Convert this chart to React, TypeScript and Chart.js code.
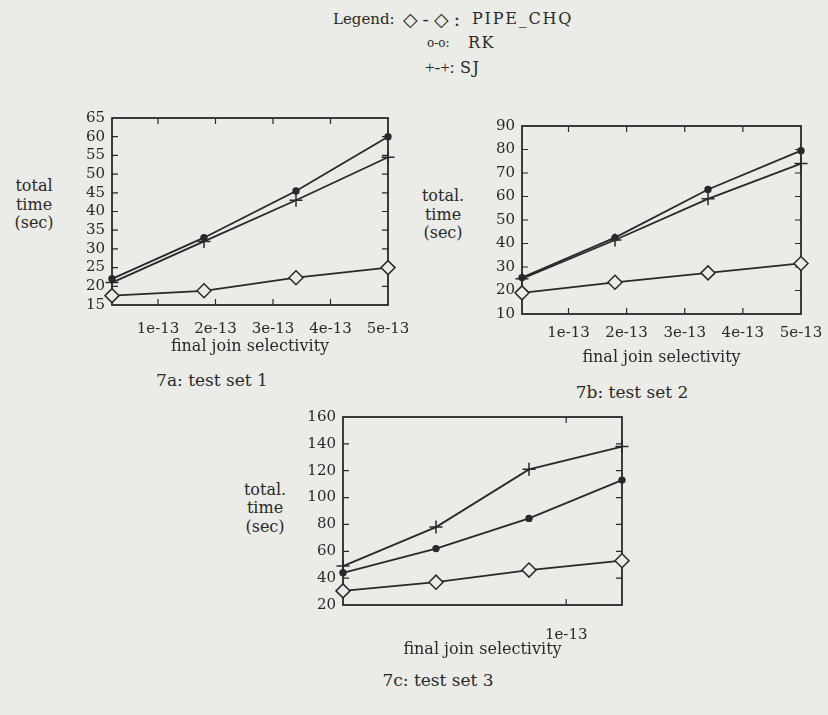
import React, { useEffect, useRef } from "react";
import { Chart, registerables } from "chart.js";

Chart.register(...registerables);

const INK = "#292929";
const PAPER = "#ebebe7";
const FONT = "'DejaVu Serif', serif";

// ---- 7a: test set 1 ----
const xA = [2e-14, 1.8e-13, 3.4e-13, 5e-13];
const pipeA = [17.5, 18.8, 22.3, 25];
const rkA = [22, 33, 45.5, 60];
const sjA = [21, 32, 43, 54.5];
const xTicksA = [1e-13, 2e-13, 3e-13, 4e-13, 5e-13];
const xTickLabelsA = ["1e-13", "2e-13", "3e-13", "4e-13", "5e-13"];
const yTicksA = [15, 20, 25, 30, 35, 40, 45, 50, 55, 60, 65];

// ---- 7b: test set 2 ----
const xB = [2e-14, 1.8e-13, 3.4e-13, 5e-13];
const pipeB = [19, 23.5, 27.5, 31.5];
const rkB = [25.5, 42.5, 63, 79.5];
const sjB = [25, 41.5, 59, 74];
const xTicksB = [1e-13, 2e-13, 3e-13, 4e-13, 5e-13];
const xTickLabelsB = ["1e-13", "2e-13", "3e-13", "4e-13", "5e-13"];
const yTicksB = [10, 20, 30, 40, 50, 60, 70, 80, 90];

// ---- 7c: test set 3 ----
const xC = [2.8e-14, 5.8e-14, 8.8e-14, 1.18e-13];
const pipeC = [30.5, 37, 46, 53];
const rkC = [44, 62, 84.5, 113];
const sjC = [49, 78, 121, 138];
const xTicksC = [1e-13];
const xTickLabelsC = ["1e-13"];
const yTicksC = [20, 40, 60, 80, 100, 120, 140, 160];

const seriesNames = ["PIPE_CHQ", "RK", "SJ"];
const xTitle = "final join selectivity";

type Panel = {
  left: number; top: number; width: number; height: number;
  padTop: number; padRight: number; yWidth: number; xHeight: number;
  tickPad: number; titlePadBottom: number;
  x: number[]; pipe: number[]; rk: number[]; sj: number[];
  xTicks: number[]; xLabels: string[]; yTicks: number[];
};

const panels: Panel[] = [
  {
    left: 72, top: 108, width: 341, height: 252, padTop: 10, padRight: 25, yWidth: 40, xHeight: 55,
    tickPad: 15, titlePadBottom: 4,
    x: xA, pipe: pipeA, rk: rkA, sj: sjA, xTicks: xTicksA, xLabels: xTickLabelsA, yTicks: yTicksA,
  },
  {
    left: 482, top: 116, width: 346, height: 253, padTop: 10, padRight: 27, yWidth: 40, xHeight: 55,
    tickPad: 10, titlePadBottom: 2,
    x: xB, pipe: pipeB, rk: rkB, sj: sjB, xTicks: xTicksB, xLabels: xTickLabelsB, yTicks: yTicksB,
  },
  {
    left: 303, top: 407, width: 339, height: 253, padTop: 10, padRight: 20, yWidth: 40, xHeight: 55,
    tickPad: 21, titlePadBottom: 1,
    x: xC, pipe: pipeC, rk: rkC, sj: sjC, xTicks: xTicksC, xLabels: xTickLabelsC, yTicks: yTicksC,
  },
];

const framePlugin = {
  id: "frameTicks",
  beforeDatasetsDraw(chart: any) {
    const { ctx, chartArea: a, scales } = chart;
    ctx.save();
    ctx.strokeStyle = INK;
    ctx.lineWidth = 1.8;
    ctx.strokeRect(a.left, a.top, a.right - a.left, a.bottom - a.top);
    ctx.lineWidth = 1.2;
    const t = 6;
    ctx.beginPath();
    scales.y.ticks.forEach((tk: any) => {
      const py = scales.y.getPixelForValue(tk.value);
      if (py <= a.top + 1 || py >= a.bottom - 1) return;
      ctx.moveTo(a.left, py);
      ctx.lineTo(a.left + t, py);
      ctx.moveTo(a.right, py);
      ctx.lineTo(a.right - t, py);
    });
    scales.x.ticks.forEach((tk: any) => {
      const px = scales.x.getPixelForValue(tk.value);
      if (px <= a.left + 1 || px >= a.right - 1) return;
      ctx.moveTo(px, a.top);
      ctx.lineTo(px, a.top + t);
      ctx.moveTo(px, a.bottom);
      ctx.lineTo(px, a.bottom - t);
    });
    ctx.stroke();
    ctx.restore();
  },
};

function PanelChart({ p }: { p: Panel }) {
  const ref = useRef<HTMLCanvasElement | null>(null);
  useEffect(() => {
    if (!ref.current) return;
    const pts = (ys: number[]) => p.x.map((x, i) => ({ x, y: ys[i] }));
    const font = { family: FONT, size: 15 };
    const chart = new Chart(ref.current, {
      type: "line",
      data: {
        datasets: [
          {
            label: seriesNames[0],
            data: pts(p.pipe),
            borderColor: INK,
            backgroundColor: PAPER,
            borderWidth: 1.8,
            pointStyle: "rectRot",
            pointRadius: 7,
            pointBorderWidth: 1.5,
            pointBackgroundColor: PAPER,
            pointBorderColor: INK,
            clip: false,
          },
          {
            label: seriesNames[1],
            data: pts(p.rk),
            borderColor: INK,
            backgroundColor: INK,
            borderWidth: 1.8,
            pointStyle: "circle",
            pointRadius: 2.8,
            pointBackgroundColor: INK,
            pointBorderColor: INK,
            clip: false,
          },
          {
            label: seriesNames[2],
            data: pts(p.sj),
            borderColor: INK,
            backgroundColor: INK,
            borderWidth: 1.8,
            pointStyle: "cross",
            pointRadius: 6.5,
            pointBorderWidth: 1.5,
            pointBorderColor: INK,
            clip: false,
          },
        ] as any,
      },
      options: {
        animation: false,
        responsive: false,
        devicePixelRatio: 1,
        layout: { padding: { top: p.padTop, right: p.padRight, left: 0, bottom: 0 } },
        plugins: { legend: { display: false }, tooltip: { enabled: false } },
        elements: { line: { tension: 0 } },
        scales: {
          x: {
            type: "linear",
            min: p.x[0],
            max: p.x[p.x.length - 1],
            grid: { display: false, drawTicks: false },
            border: { display: false },
            afterBuildTicks: (s: any) => { s.ticks = p.xTicks.map((v) => ({ value: v })); },
            afterFit: (s: any) => {
              s.height = p.xHeight;
              s.paddingLeft = 0;
              s.paddingRight = 0;
            },
            ticks: {
              autoSkip: false,
              maxRotation: 0,
              padding: p.tickPad,
              color: INK,
              font,
              callback: (_v: any, i: number) => p.xLabels[i],
            },
            title: {
              display: true,
              text: xTitle,
              color: INK,
              font: { family: FONT, size: 16 },
              padding: { top: 0, bottom: p.titlePadBottom },
            },
          },
          y: {
            type: "linear",
            min: p.yTicks[0],
            max: p.yTicks[p.yTicks.length - 1],
            grid: { display: false, drawTicks: false },
            border: { display: false },
            afterBuildTicks: (s: any) => { s.ticks = p.yTicks.map((v) => ({ value: v })); },
            afterFit: (s: any) => {
              s.width = p.yWidth;
              s.paddingTop = 0;
              s.paddingBottom = 0;
            },
            ticks: { padding: 7, color: INK, font, autoSkip: false },
          },
        },
      } as any,
      plugins: [framePlugin],
    });
    return () => chart.destroy();
  }, [p]);
  return (
    <canvas
      ref={ref}
      width={p.width}
      height={p.height}
      style={{ position: "absolute", left: p.left, top: p.top, width: p.width, height: p.height }}
    />
  );
}

function T({
  x, y, children, center, size, family, spacing,
}: {
  x: number; y: number; children: any; center?: boolean; size?: number; family?: string; spacing?: number;
}) {
  return (
    <div
      style={{
        position: "absolute",
        left: x,
        top: y - 10,
        lineHeight: "20px",
        fontSize: size ?? 15,
        fontFamily: family ?? FONT,
        letterSpacing: spacing ?? 0,
        whiteSpace: "nowrap",
        transform: center ? "translateX(-50%)" : undefined,
        textAlign: center ? "center" : "left",
      }}
    >
      {children}
    </div>
  );
}

export default function App() {
  return (
    <div
      style={{
        position: "absolute",
        left: 0,
        top: 0,
        width: 828,
        height: 715,
        background: PAPER,
        overflow: "hidden",
        fontFamily: FONT,
        color: INK,
      }}
    >
      {/* legend */}
      <T x={333} y={19}>Legend:</T>
      <T x={403} y={19} size={19} spacing={5}>◇-◇:</T>
      <T x={472} y={19} size={16} spacing={1.8}>{seriesNames[0]}</T>
      <T x={427} y={43} size={12}>o-o:</T>
      <T x={468} y={43} size={16} spacing={1.5}>{seriesNames[1]}</T>
      <T x={425} y={68} size={17} family="'Liberation Serif', serif">+-+:</T>
      <T x={460} y={68} size={16} spacing={1.5}>{seriesNames[2]}</T>

      {/* y titles */}
      <T x={34} y={186} center size={16}>total</T>
      <T x={34} y={205} center size={16}>time</T>
      <T x={34} y={223} center size={16}>(sec)</T>

      <T x={443} y={196} center size={16}>total.</T>
      <T x={443} y={215} center size={16}>time</T>
      <T x={443} y={233} center size={16}>(sec)</T>

      <T x={265} y={490} center size={16}>total.</T>
      <T x={265} y={508} center size={16}>time</T>
      <T x={265} y={527} center size={16}>(sec)</T>

      {panels.map((p, i) => (
        <PanelChart key={i} p={p} />
      ))}

      {/* captions */}
      <T x={212} y={380} center size={17}>7a: test set 1</T>
      <T x={632} y={392} center size={17}>7b: test set 2</T>
      <T x={438} y={680} center size={17}>7c: test set 3</T>
    </div>
  );
}
